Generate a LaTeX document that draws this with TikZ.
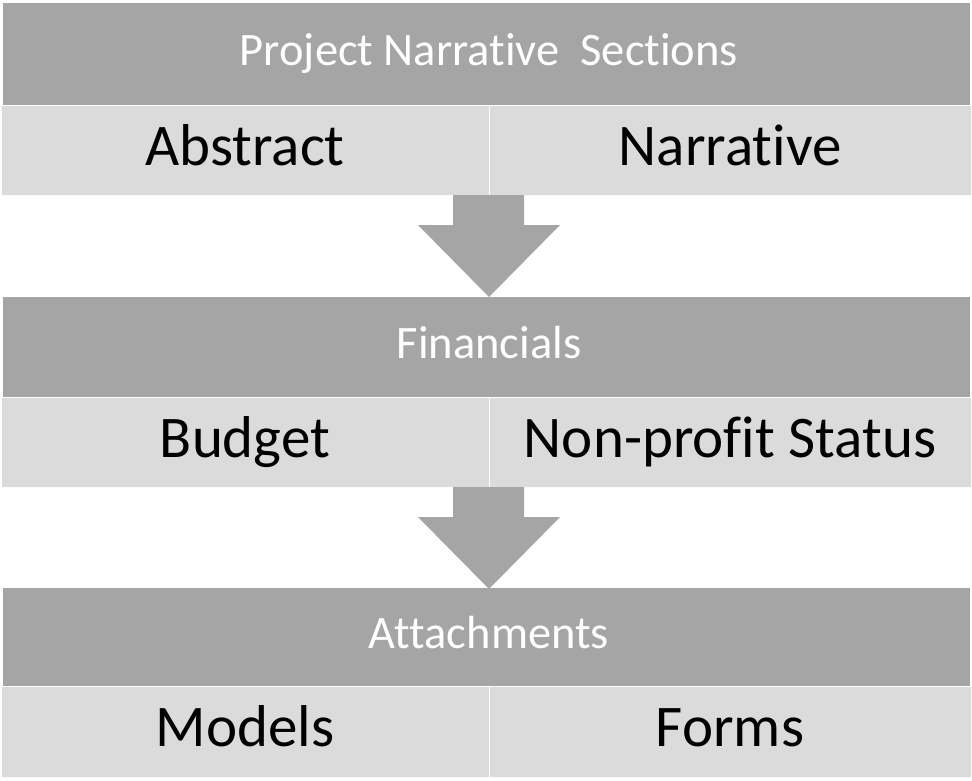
\documentclass[tikz,border=0pt]{standalone}
\usepackage{fontspec}
\setmainfont[Ligatures={NoCommon}]{Carlito}
\usetikzlibrary{calc}
\definecolor{hdr}{HTML}{A5A5A5}
\definecolor{cellc}{HTML}{DBDBDB}
\tikzset{
  hdrbox/.style={fill=hdr, draw=none, minimum width=967pt, minimum height=102pt, anchor=north west, inner sep=0pt, outer sep=0pt},
  cellbox/.style={fill=cellc, draw=white!93!cellc, line width=0.8pt, minimum height=90pt, anchor=north west, inner sep=0pt, outer sep=0pt},
  htext/.style={text=white, anchor=base, inner sep=0pt, font=\fontsize{46.5}{56}\selectfont},
  ctext/.style={text=black, anchor=base, inner sep=0pt, font=\fontsize{59}{70}\selectfont},
  blockarrow/.style={fill=hdr, draw=none}
}
\begin{document}
\begin{tikzpicture}[x=1pt,y=-1pt]
\useasboundingbox (0,0) rectangle (972,780);
% band 1
\node[hdrbox, minimum height=102pt] (h1) at (3,3) {};
\node[cellbox, minimum width=488pt] (a1) at (1,105) {};
\node[cellbox, minimum width=482pt] (b1) at (489,105) {};
\node[htext] (th1) at ($(h1.center)+(2.5,11)$) {Project Narrative\ \ Sections};
\node[ctext] (ta1) at ($(a1.center)+(0,15)$) {Abstract};
\node[ctext] (tb1) at ($(b1.center)+(0,15)$) {Narrative};
% band 2
\node[hdrbox, minimum height=100pt] (h2) at (3,297) {};
\node[cellbox, minimum width=488pt] (a2) at (1,397) {};
\node[cellbox, minimum width=482pt] (b2) at (489,397) {};
\node[htext] (th2) at ($(h2.center)+(2.5,11)$) {Financials};
\node[ctext] (ta2) at ($(a2.center)+(0,15)$) {Budget};
\node[ctext] (tb2) at ($(b2.center)+(0,15)$) {Non-profit Status};
% band 3
\node[hdrbox, minimum height=98pt] (h3) at (3,588) {};
\node[cellbox, minimum width=488pt, minimum height=91pt] (a3) at (1,686) {};
\node[cellbox, minimum width=482pt, minimum height=91pt] (b3) at (489,686) {};
\node[htext] (th3) at ($(h3.center)+(2.5,11)$) {Attachments};
\node[ctext] (ta3) at ($(a3.center)+(0,15)$) {Models};
\node[ctext] (tb3) at ($(b3.center)+(0,15)$) {Forms};
% arrows
\coordinate (p1) at (a1.south east);
\fill[blockarrow] ($(p1)+(-36,0)$) -- ($(p1)+(35,0)$) -- ($(p1)+(35,30)$) -- ($(p1)+(71,30)$)
  -- ($(p1)+(0,102)$) -- ($(p1)+(-71,30)$) -- ($(p1)+(-36,30)$) -- cycle;
\coordinate (p2) at (a2.south east);
\fill[blockarrow] ($(p2)+(-36,0)$) -- ($(p2)+(35,0)$) -- ($(p2)+(35,30)$) -- ($(p2)+(71,30)$)
  -- ($(p2)+(0,102)$) -- ($(p2)+(-71,30)$) -- ($(p2)+(-36,30)$) -- cycle;
\end{tikzpicture}
\end{document}
